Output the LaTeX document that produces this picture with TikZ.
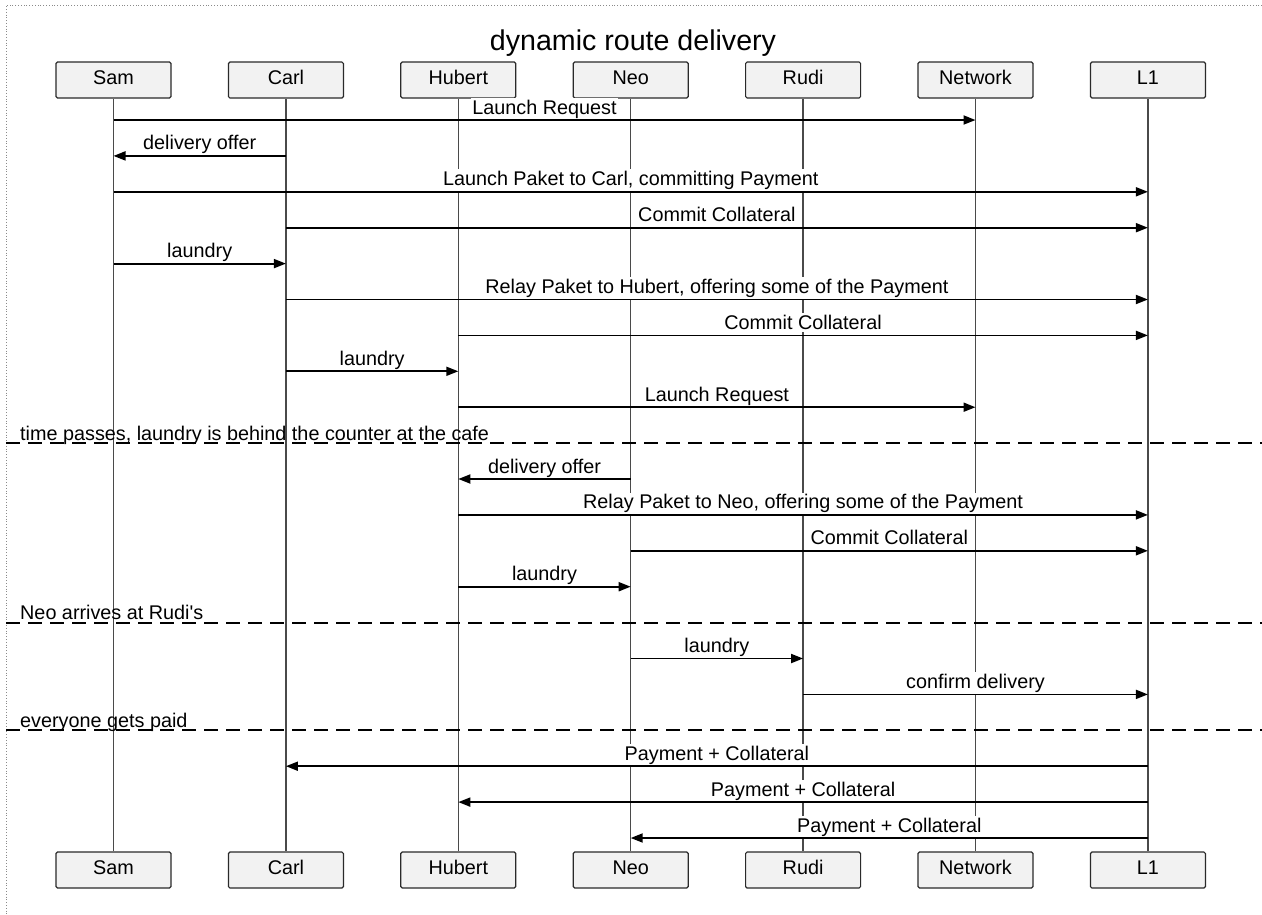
\documentclass[tikz,border=0pt]{standalone}
\usepackage{fontspec}
\setmainfont{Liberation Sans}
\usetikzlibrary{arrows.meta}

\definecolor{boxfill}{HTML}{F2F2F2}
\definecolor{boxedge}{HTML}{2A2A2A}
\definecolor{lifegray}{HTML}{4A4A4A}
\definecolor{framegray}{HTML}{8A8A8A}

\tikzset{
  actor/.style={draw=boxedge, fill=boxfill, line width=1.2pt, rounded corners=1.5pt,
    minimum width=115pt, minimum height=36pt, inner sep=0pt,
    text height=14pt, text depth=6pt,
    font=\fontsize{19.8}{23}\selectfont},
  lifeline/.style={draw=lifegray, line width=1.4pt},
  msgline/.style={draw=black, line width=1.8pt,
    -{Triangle[length=12pt,width=9pt]}},
  msglabel/.style={anchor=base, fill=white, inner xsep=1pt, inner ysep=2pt,
    yshift=6pt, font=\fontsize{19.8}{23}\selectfont},
  divider/.style={draw=black, line width=1.8pt, dash pattern=on 14pt off 8pt},
  divlabel/.style={anchor=base west, inner sep=0pt,
    font=\fontsize{19.8}{23}\selectfont},
  framebox/.style={draw=framegray, line width=0.8pt, dotted},
}

% message: from lifeline, to lifeline, row, text
\newcommand{\seqmsg}[4]{%
  \path (#1 |- #3) -- node[msglabel] {#4} (#2 |- #3);
  \draw[msgline] (#1 |- #3) -- (#2 |- #3);
}

\begin{document}
\begin{tikzpicture}[x=1pt, y=-1pt]
  \useasboundingbox (0,0) rectangle (1262,914);

  % outer frame (top and left edges)
  \coordinate (fTL) at (6,5);
  \coordinate (fTR) at (1262,5);
  \coordinate (fBL) at (6,914);
  \draw[framebox] (fTR) -- (fTL) -- (fBL);

  % title
  \node (title) [anchor=base, inner sep=0pt, font=\fontsize{28.6}{33}\selectfont]
    at (633,50) {dynamic route delivery};

  % participants, top row
  \node (samT) [actor] at (113.5,80) {Sam};
  \node (carlT) [actor] at (285.9,80) {Carl};
  \node (hubT) [actor] at (458.3,80) {Hubert};
  \node (neoT) [actor] at (630.7,80) {Neo};
  \node (rudiT) [actor] at (803.1,80) {Rudi};
  \node (netT) [actor] at (975.5,80) {Network};
  \node (lT) [actor] at (1147.9,80) {L1};

  % participants, bottom row
  \node (samB) [actor] at (113.5,870) {Sam};
  \node (carlB) [actor] at (285.9,870) {Carl};
  \node (hubB) [actor] at (458.3,870) {Hubert};
  \node (neoB) [actor] at (630.7,870) {Neo};
  \node (rudiB) [actor] at (803.1,870) {Rudi};
  \node (netB) [actor] at (975.5,870) {Network};
  \node (lB) [actor] at (1147.9,870) {L1};

  % lifelines
  \foreach \p in {sam,carl,hub,neo,rudi,net,l}
    \draw[lifeline] (\p T.south) -- (\p B.north);

  % message rows
  \foreach \i in {0,...,20}
    \coordinate (r\i) at (0,{120+35.9*\i});

  \seqmsg{samT}{netT}{r0}{Launch Request}
  \seqmsg{carlT}{samT}{r1}{delivery offer}
  \seqmsg{samT}{lT}{r2}{Launch Paket to Carl, committing Payment}
  \seqmsg{carlT}{lT}{r3}{Commit Collateral}
  \seqmsg{samT}{carlT}{r4}{laundry}
  \seqmsg{carlT}{lT}{r5}{Relay Paket to Hubert, offering some of the Payment}
  \seqmsg{hubT}{lT}{r6}{Commit Collateral}
  \seqmsg{carlT}{hubT}{r7}{laundry}
  \seqmsg{hubT}{netT}{r8}{Launch Request}

  % divider: time passes
  \draw[divider] (fTL |- r9) -- (fTR |- r9);
  \node (d1) [divlabel] at (20,{443.1-3}) {time passes, laundry is behind the counter at the cafe};

  \seqmsg{neoT}{hubT}{r10}{delivery offer}
  \seqmsg{hubT}{lT}{r11}{Relay Paket to Neo, offering some of the Payment}
  \seqmsg{neoT}{lT}{r12}{Commit Collateral}
  \seqmsg{hubT}{neoT}{r13}{laundry}

  % divider: arrival
  \draw[divider] (fTL |- r14) -- (fTR |- r14);
  \node (d2) [divlabel] at (20,{622.6-3}) {Neo arrives at Rudi\textquotesingle s};

  \seqmsg{neoT}{rudiT}{r15}{laundry}
  \seqmsg{rudiT}{lT}{r16}{confirm delivery}

  % divider: payout
  \draw[divider] (fTL |- r17) -- (fTR |- r17);
  \node (d3) [divlabel] at (20,{730.3-3}) {everyone gets paid};

  \seqmsg{lT}{carlT}{r18}{Payment + Collateral}
  \seqmsg{lT}{hubT}{r19}{Payment + Collateral}
  \seqmsg{lT}{neoT}{r20}{Payment + Collateral}
\end{tikzpicture}
\end{document}
